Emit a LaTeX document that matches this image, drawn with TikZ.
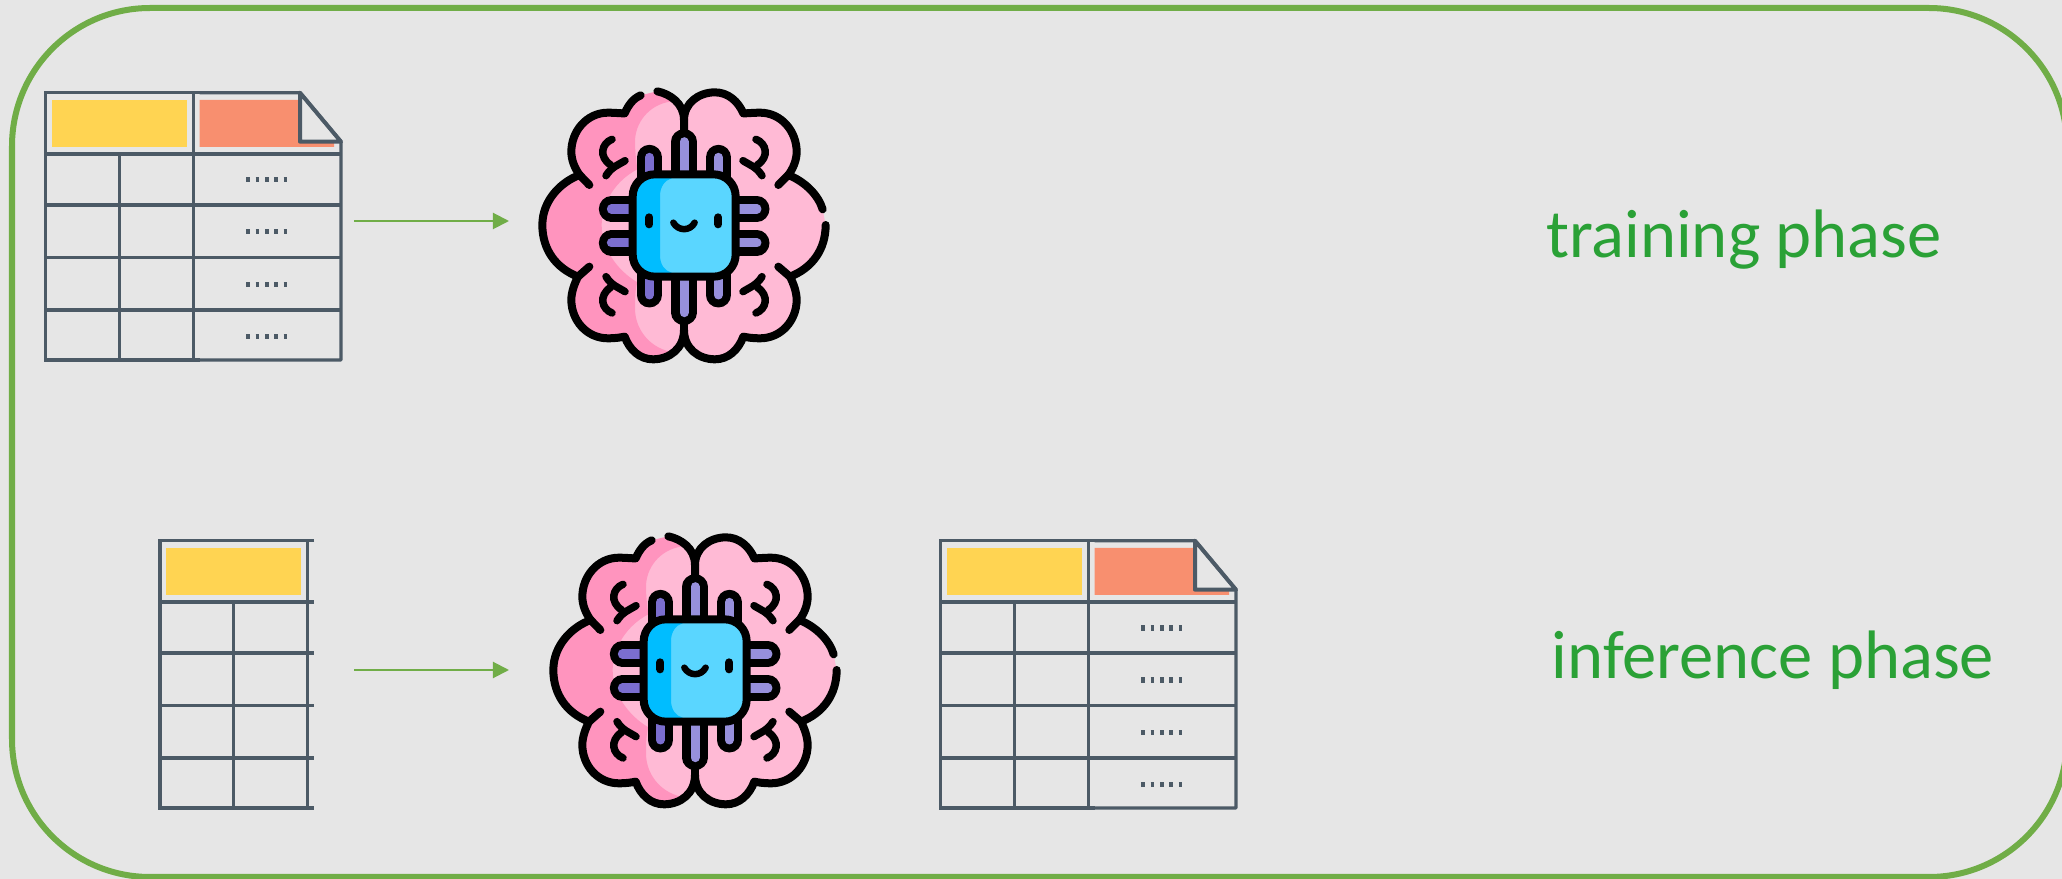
\documentclass[tikz,border=0pt]{standalone}
\usepackage{fontspec}
\setmainfont{Carlito}
\usetikzlibrary{arrows.meta}
\definecolor{panelgray}{HTML}{E6E6E6}
\definecolor{framegreen}{HTML}{70AD47}
\definecolor{phasegreen}{HTML}{2AA136}
\definecolor{gridslate}{HTML}{4C5A66}
\definecolor{headyellow}{HTML}{FFD452}
\definecolor{headorange}{HTML}{F88F6F}
\definecolor{brainlight}{HTML}{FFBAD5}
\definecolor{braindark}{HTML}{FF94BE}
\definecolor{chiplight}{HTML}{5AD6FF}
\definecolor{chipdark}{HTML}{00BDFF}
\definecolor{pindark}{HTML}{7B6ECF}
\definecolor{pinlight}{HTML}{9790DC}

% outline pieces of the icon
\newcommand{\brainRightA}{(492,150) .. controls (492,100) and (535,67) .. (585,67)
  .. controls (625,67) and (655,95) .. (670,130)
  .. controls (685,130) and (700,128) .. (720,128)
  .. controls (785,128) and (830,185) .. (830,245)
  .. controls (830,270) and (820,295) .. (805,315)
  .. controls (855,335) and (895,375) .. (908,418)}
\newcommand{\brainRightB}{.. controls (917,540) and (875,595) .. (810,620)
  .. controls (820,640) and (830,665) .. (830,690)
  .. controls (830,750) and (785,805) .. (720,805)
  .. controls (700,805) and (685,803) .. (670,800)
  .. controls (655,840) and (625,868) .. (585,868)
  .. controls (535,868) and (492,835) .. (492,780)}
\newcommand{\brainLeftB}{(362,76) .. controls (340,85) and (325,105) .. (314,130)
  .. controls (299,130) and (284,128) .. (264,128)
  .. controls (199,128) and (154,185) .. (154,245)
  .. controls (154,270) and (164,295) .. (179,315)
  .. controls (124,335) and (67,390) .. (67,465)
  .. controls (67,540) and (109,595) .. (174,620)
  .. controls (164,640) and (154,665) .. (154,690)
  .. controls (154,750) and (199,805) .. (264,805)
  .. controls (284,805) and (299,803) .. (314,800)
  .. controls (329,840) and (359,868) .. (399,868)
  .. controls (449,868) and (492,835) .. (492,780)}

\begin{document}
\begin{tikzpicture}[
  x=0.01cm, y=-0.01cm,
  gridline/.style={draw=gridslate, line width=0.033cm},
  dotrow/.style={draw=gridslate, line width=0.05cm, dash pattern=on 0.037cm off 0.0563cm},
  flow/.style={draw=framegreen, line width=0.02cm, -{Triangle[length=0.16cm, width=0.16cm]}},
  phase/.style={anchor=base west, inner sep=0pt, text=phasegreen, font=\fontsize{19.5}{23}\selectfont},
  ink/.style={draw=black, line width=0.08cm, line cap=round, line join=round},
  wrinkle/.style={draw=black, line width=0.075cm, line cap=round},
  smile/.style={draw=black, line width=0.065cm, line cap=round},
  pinbody/.style={draw=black, line width=0.25cm, line cap=round},
  pincore/.style={line width=0.09cm, line cap=round},
  pics/inputcols/.style={code={
    \fill[headyellow] (6.3,7.3) rectangle (141.3,54.3);
    \draw[gridline] (154,0) -- (0,0) -- (0,267.3) -- (154,267.3);
    \draw[gridline] (73.6,61.3) -- (73.6,267.3);
    \draw[gridline] (147.6,0) -- (147.6,267.3);
    \foreach \rowy in {61.3,112.3,165,217.3} \draw[gridline] (0,\rowy) -- (154,\rowy);
  }},
  pics/targetcols/.style={code={
    \fill[headorange] (153.8,7.3) -- (254.3,7.3) -- (254.3,49) -- (288.3,49) -- (288.3,54.3) -- (153.8,54.3) -- cycle;
    \draw[gridline, line join=round] (154,0) -- (254.3,0) -- (295.3,49) -- (295.3,267.3) -- (154,267.3);
    \draw[gridline, line width=0.04cm, line join=round] (254.3,0) -- (254.3,49) -- (295.3,49) -- cycle;
    \foreach \rowy in {61.3,112.3,165,217.3} \draw[gridline] (154,\rowy) -- (295.3,\rowy);
    \foreach \rowy in {87.3,139.3,192,244} \draw[dotrow] (200.7,\rowy) -- (241.7,\rowy);
  }},
  pics/brainicon/.style={code={
    \begin{scope}[scale=0.3333, shift={(-492,-465)}]
    % lobes
    \fill[brainlight] \brainRightA -- (917,465) \brainRightB -- cycle;
    \fill[brainlight] \brainLeftB -- (492,150) .. controls (492,100) and (450,72) .. (412,64) -- cycle;
    \begin{scope}
      \clip \brainLeftB -- (492,150) .. controls (492,100) and (450,72) .. (412,64) -- cycle;
      \fill[braindark] (460,40) -- (450,95) .. controls (385,105) and (345,160) .. (345,215)
        .. controls (345,250) and (350,280) .. (352,298)
        .. controls (290,330) and (245,395) .. (245,465)
        .. controls (245,535) and (290,600) .. (352,637)
        .. controls (345,660) and (345,690) .. (345,715)
        .. controls (345,775) and (385,830) .. (450,845)
        -- (460,900) -- (0,900) -- (0,30) -- cycle;
    \end{scope}
    \draw[ink] \brainRightA;
    \draw[ink] (917,465) \brainRightB;
    \draw[ink] \brainLeftB;
    \draw[ink] (412,64) .. controls (450,72) and (492,100) .. (492,150) -- (492,180);
    \draw[ink] (492,780) -- (492,750);
    \draw[ink] (179,315) -- (208,345);
    \draw[ink] (174,620) -- (208,590);
    \draw[ink] (805,315) -- (775,345);
    \draw[ink] (810,620) -- (775,590);
    % wrinkles
    \draw[wrinkle] (276,208) .. controls (245,220) and (235,260) .. (272,285);
    \draw[wrinkle] (315,272) .. controls (295,285) and (275,290) .. (258,317);
    \draw[wrinkle] (708,208) .. controls (739,220) and (749,260) .. (712,285);
    \draw[wrinkle] (669,272) .. controls (689,285) and (709,290) .. (726,317);
    \draw[wrinkle] (276,729) .. controls (245,717) and (235,677) .. (272,652);
    \draw[wrinkle] (315,665) .. controls (295,652) and (275,647) .. (258,620);
    \draw[wrinkle] (708,729) .. controls (739,717) and (749,677) .. (712,652);
    \draw[wrinkle] (669,665) .. controls (689,652) and (709,647) .. (726,620);
    % pins
    \foreach \pinx/\piny/\pincol in {388/262/pindark,492/215/pinlight,595/262/pinlight}
      {\draw[pinbody] (\pinx,340) -- (\pinx,\piny);
       \draw[pincore, draw=\pincol] (\pinx,340) -- (\pinx,\piny);}
    \foreach \pinx/\piny/\pincol in {388/675/pindark,492/728/pinlight,595/675/pinlight}
      {\draw[pinbody] (\pinx,600) -- (\pinx,\piny);
       \draw[pincore, draw=\pincol] (\pinx,600) -- (\pinx,\piny);}
    \foreach \piny in {417,519}
      {\draw[pinbody] (360,\piny) -- (274,\piny);
       \draw[pincore, draw=pindark] (360,\piny) -- (274,\piny);
       \draw[pinbody] (620,\piny) -- (711,\piny);
       \draw[pincore, draw=pinlight] (620,\piny) -- (711,\piny);}
    % chip
    \fill[chiplight, rounded corners=0.22cm] (338,313) rectangle (647,620);
    \begin{scope}
      \clip[rounded corners=0.22cm] (338,313) rectangle (647,620);
      \fill[chipdark] (330,313) -- (455,313) -- (455,325) .. controls (435,330) and (420,350) .. (420,378)
        -- (420,555) .. controls (420,585) and (435,603) .. (455,608) -- (455,625) -- (330,625) -- cycle;
    \end{scope}
    \draw[ink, rounded corners=0.22cm] (338,313) rectangle (647,620);
    \draw[ink] (388,442) -- (388,463);
    \draw[ink] (595,442) -- (595,463);
    \draw[smile] (460,458) .. controls (475,484) and (510,484) .. (524,458);
    \end{scope}
  }}
]
\useasboundingbox (0,0) rectangle (2062,879);
\fill[panelgray] (0,0) rectangle (2062,879);
\draw[framegreen, line width=0.06cm, rounded corners=1.38cm] (12,8) rectangle (2067,877);

% training row
\pic (tabA) at (45.7,92.7) {inputcols};
\pic (tabAy) at (45.7,92.7) {targetcols};
\pic (brainA) at (684,225) {brainicon};
\coordinate (trainin) at (354,221);
\coordinate (trainout) at (509,221);
\draw[flow] (trainin) -- (trainout);
\node[phase] (trainlabel) at (1545.5,257.7) {training phase};

% inference row
\pic (tabB) at (160,540.7) {inputcols};
\pic (brainB) at (695,670) {brainicon};
\pic (tabC) at (940.7,540.7) {inputcols};
\pic (tabCy) at (940.7,540.7) {targetcols};
\coordinate (inferin) at (354,670);
\coordinate (inferout) at (509,670);
\draw[flow] (inferin) -- (inferout);
\node[phase] (inferlabel) at (1551,679) {inference phase};
\end{tikzpicture}
\end{document}
